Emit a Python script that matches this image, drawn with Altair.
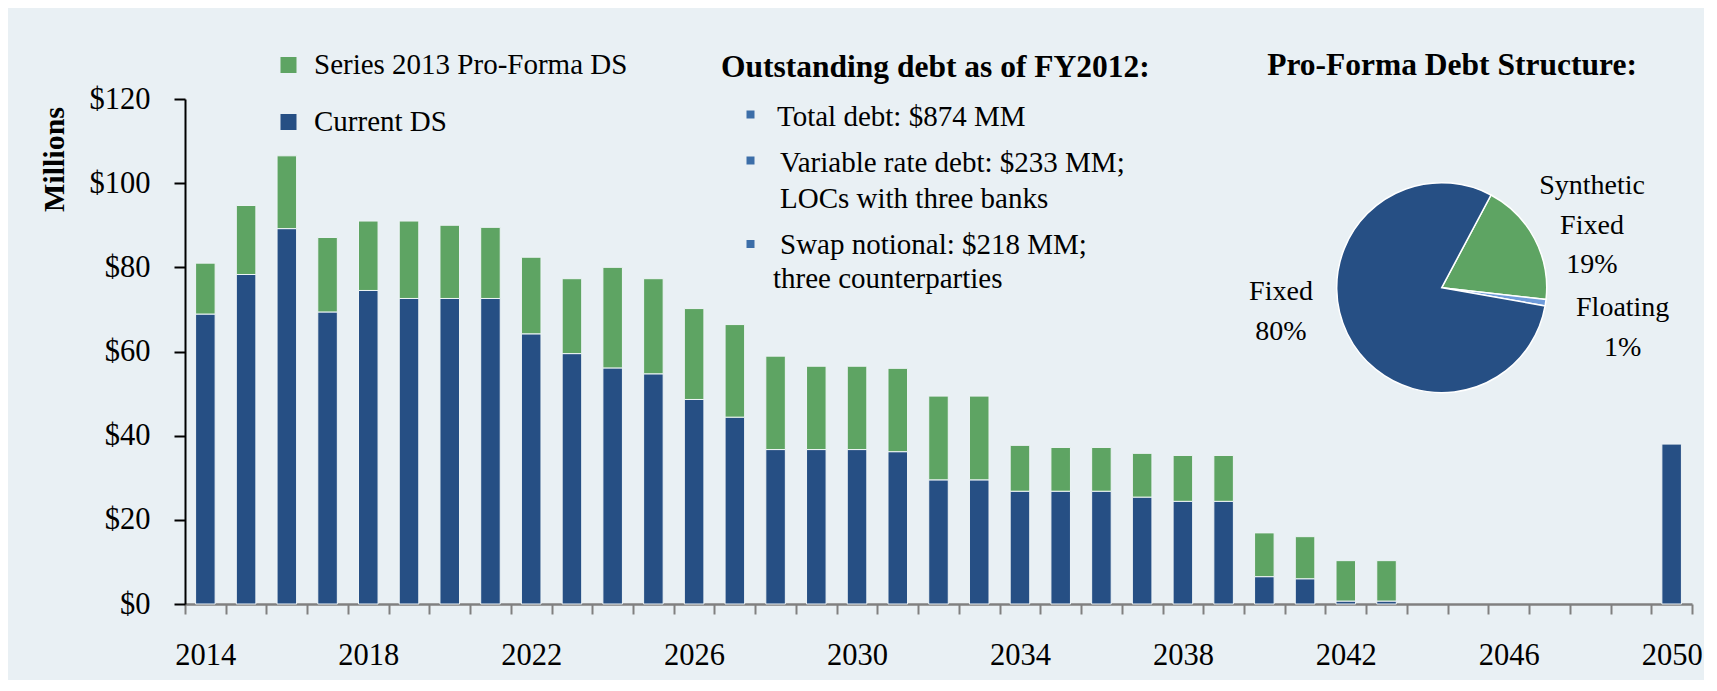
import math
import altair as alt
import pandas as pd

# ---------------- data ----------------
years = list(range(2014, 2051))
current_ds = [68.9, 78.3, 89.2, 69.4, 74.5, 72.6, 72.6, 72.6, 64.2, 59.5,
              56.1, 54.7, 48.6, 44.4, 36.7, 36.7, 36.7, 36.2, 29.5, 29.5,
              26.8, 26.8, 26.8, 25.4, 24.4, 24.4, 6.5, 6.0, 0.7, 0.7,
              0, 0, 0, 0, 0, 0, 38.0]
series_2013 = [12.1, 16.4, 17.3, 17.7, 16.5, 18.4, 17.4, 16.9, 18.2, 17.8,
               23.9, 22.6, 21.6, 22.0, 22.2, 19.8, 19.8, 19.8, 19.9, 19.9,
               10.9, 10.4, 10.4, 10.4, 10.9, 10.9, 10.4, 10.0, 9.6, 9.6,
               0, 0, 0, 0, 0, 0, 0]
series_names = ["Series 2013 Pro-Forma DS", "Current DS"]
y_ticks = [0, 20, 40, 60, 80, 100, 120]

pie_categories = ["Synthetic Fixed", "Floating", "Fixed"]
pie_shares = [19, 1, 80]

debt_title = "Outstanding debt as of FY2012:"
debt_lines = ["Total debt: $874 MM", "Variable rate debt: $233 MM;",
              "LOCs with three banks", "Swap notional: $218 MM;",
              "three counterparties"]
pie_title = "Pro-Forma Debt Structure:"

# ---------------- styles ----------------
BLUE = "#264F84"
GREEN = "#5EA463"
LIGHTBLUE = "#6F9CDA"
BULLET = "#3C6EA8"
BG = "#E9F0F4"
FONT = "Liberation Serif"

rows = []
for i, yr in enumerate(years):
    rows.append({"year": yr, "series": series_names[1], "value": current_ds[i], "ord": 0})
    rows.append({"year": yr, "series": series_names[0], "value": series_2013[i], "ord": 1})
df = pd.DataFrame(rows)

W, H = 1507, 505

bars = alt.Chart(df).transform_filter("datum.value > 0").mark_bar(
    width=alt.RelativeBandSize(0.48), stroke="#EEF4F6", strokeWidth=1
).encode(
    x=alt.X("year:O", title=None,
            scale=alt.Scale(domain=years, paddingInner=0, paddingOuter=0),
            axis=alt.Axis(labelAngle=0, labelFontSize=30.5, labelFont=FONT, labelColor="black",
                          labelExpr="(toNumber(datum.value) - 2014) % 4 == 0 ? datum.label : ''",
                          labelOverlap=False, labelFlush=False, labelPadding=26,
                          tickBand="extent", tickSize=10, tickWidth=2, tickColor="#808080",
                          domainColor="#808080", domainWidth=2.5, grid=False)),
    y=alt.Y("value:Q", stack="zero",
            scale=alt.Scale(domain=[0, 120], nice=False),
            axis=alt.Axis(values=y_ticks, labelExpr="'$' + datum.value", labelFontSize=30.5,
                          labelFont=FONT, labelColor="black", labelPadding=24,
                          tickSize=11, tickWidth=2, tickColor="black",
                          domainColor="black", domainWidth=2, grid=False,
                          title="Millions", titleFont=FONT, titleFontSize=30,
                          titleFontWeight="bold", titleColor="black", titleAngle=270,
                          titleAlign="center", titleBaseline="alphabetic",
                          titleX=-122, titleY=60)),
    color=alt.Color("series:N", scale=alt.Scale(domain=series_names, range=[GREEN, BLUE]),
                    legend=alt.Legend(orient="none", legendX=89, legendY=-48.5, title=None,
                                      direction="vertical",
                                      labelFontSize=29, labelFont=FONT, labelColor="black",
                                      symbolType="square", symbolSize=256, symbolStrokeWidth=0,
                                      rowPadding=27, labelOffset=11, padding=0, labelLimit=0)),
    order=alt.Order("ord:Q", sort="ascending"),
)

pie_df = pd.DataFrame({"cat": pie_categories, "share": pie_shares,
                       "idx": list(range(len(pie_categories)))})
a0 = math.radians(28)
pie = alt.Chart(pie_df).mark_arc(radius=105, stroke="white", strokeWidth=1.5).encode(
    theta=alt.Theta("share:Q", stack=True,
                    scale=alt.Scale(domain=[0, 100], range=[a0, a0 + 2 * math.pi])),
    order=alt.Order("idx:Q"),
    color=alt.Color("cat:N", scale=alt.Scale(domain=pie_categories,
                                             range=[GREEN, LIGHTBLUE, BLUE]), legend=None),
    x=alt.value(1256.7),
    y=alt.value(188.7),
)


def txt(t, x, y, size=29, weight="normal", align="left", line_height=None):
    kw = dict(font=FONT, fontSize=size, fontWeight=weight, align=align,
              baseline="alphabetic", color="black")
    if line_height:
        kw.update(lineBreak="\n", lineHeight=line_height)
    return alt.Chart(pd.DataFrame({"t": [t]})).mark_text(**kw).encode(
        x=alt.value(x), y=alt.value(y), text="t:N")


def bullet(x, y):
    return alt.Chart(pd.DataFrame({"b": [1]})).mark_square(
        size=64, color=BULLET, opacity=1).encode(x=alt.value(x), y=alt.value(y))


pie_labels = [c.replace(" ", "\n") + "\n" + str(s) + "%" for c, s in zip(pie_categories, pie_shares)]

layers = [
    bars,
    pie,
    txt(debt_title, 536, -22, size=31.5, weight="bold"),
    bullet(565.5, 15.5), bullet(565.5, 61.5), bullet(565.5, 145),
    txt(debt_lines[0], 592, 27),
    txt(debt_lines[1], 595, 73.3),
    txt(debt_lines[2], 595, 108.7),
    txt(debt_lines[3], 595, 155),
    txt(debt_lines[4], 588, 189),
    txt(pie_title, 1267, -24, size=31.5, weight="bold", align="center"),
    txt(pie_labels[0], 1407, 95, size=28, align="center", line_height=39.5),
    txt(pie_labels[1], 1437.7, 217, size=28, align="center", line_height=39.5),
    txt(pie_labels[2], 1096, 201, size=28, align="center", line_height=39.5),
]

chart = alt.layer(*layers).resolve_scale(color="independent").properties(
    width=W, height=H,
    autosize=alt.AutoSizeParams(type="none"),
    padding={"left": 177, "top": 91, "right": 12, "bottom": 76},
).configure(background=BG).configure_view(stroke=None)

chart.save("out.html", embed_options={"renderer": "svg", "actions": False})
